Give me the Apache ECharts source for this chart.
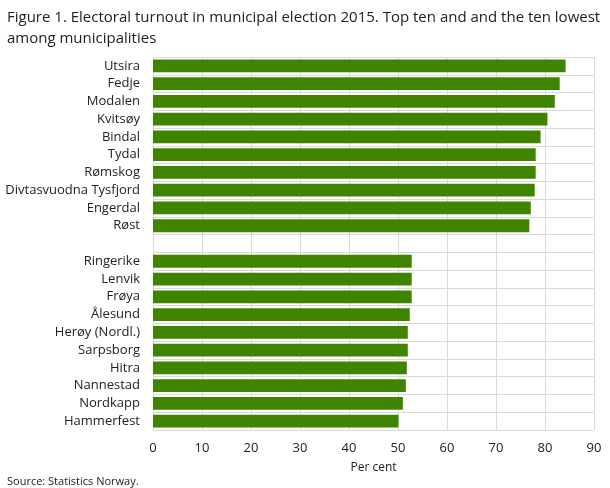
<!DOCTYPE html>
<html><head><meta charset="utf-8">
<script src="https://cdn.jsdelivr.net/npm/echarts@6/dist/echarts.min.js"></script>
<style>html,body{margin:0;padding:0;background:#fff}#c{width:610px;height:488px}</style>
</head><body><div id="c"></div>
<script>
const categories = ["Utsira","Fedje","Modalen","Kvitsøy","Bindal","Tydal","Rømskog","Divtasvuodna Tysfjord","Engerdal","Røst","",
  "Ringerike","Lenvik","Frøya","Ålesund","Herøy (Nordl.)","Sarpsborg","Hitra","Nannestad","Nordkapp","Hammerfest"];
const turnout = [84.2,83.0,82.0,80.5,79.1,78.1,78.1,77.9,77.1,76.8,null,
  52.8,52.8,52.8,52.4,52.0,52.0,51.8,51.6,51.0,50.1];
const xTicks = {min:0,max:90,interval:10};

const chart = echarts.init(document.getElementById('c'));
chart.setOption({
  animation:false,
  title:[{text:'Figure 1. Electoral turnout in municipal election 2015. Top ten and and the ten lowest\namong municipalities',
    left:2,top:2,textStyle:{fontFamily:'Open Sans',fontSize:15,fontWeight:'normal',color:'#222',lineHeight:21}},
    {text:'Source: Statistics Norway.',left:2,top:471,textStyle:{fontFamily:'Open Sans',fontSize:11,fontWeight:'normal',color:'#222'}}],
  grid:{left:153,right:16,top:57,bottom:58,containLabel:false},
  xAxis:{type:'value',min:xTicks.min,max:xTicks.max,interval:xTicks.interval,
    name:'Per cent',nameLocation:'middle',nameGap:32,
    nameTextStyle:{fontFamily:'Open Sans',fontSize:12,color:'#222'},
    axisLine:{show:false},axisTick:{show:false},
    axisLabel:{fontFamily:'Open Sans',fontSize:13,color:'#222',margin:12},
    splitLine:{show:true,lineStyle:{color:'#d9d9d9',width:1}}},
  yAxis:{type:'category',data:categories,inverse:true,
    axisLine:{show:false},axisTick:{show:false},
    axisLabel:{fontFamily:'Open Sans',fontSize:13,color:'#222',margin:13},
    splitLine:{show:true,lineStyle:{color:'#d9d9d9',width:1}}},
  series:[{type:'bar',data:turnout,barCategoryGap:'28%',itemStyle:{color:'#3f8400'}}]
});
</script></body></html>
